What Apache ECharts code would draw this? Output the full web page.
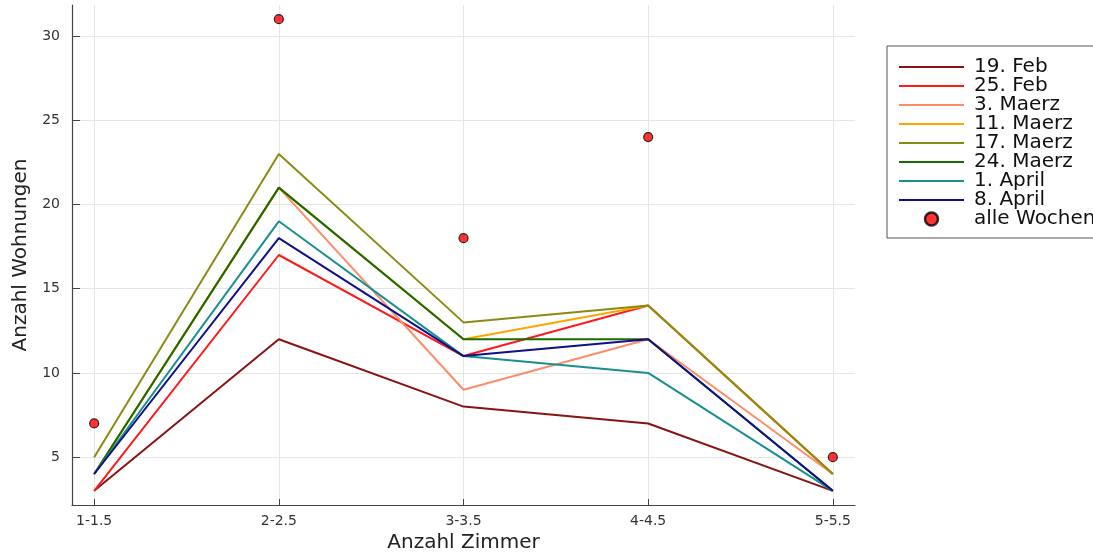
<!DOCTYPE html>
<html><head><meta charset="utf-8">
<script src="https://cdn.jsdelivr.net/npm/echarts@6/dist/echarts.min.js"></script>
<style>html,body{margin:0;padding:0;background:#fff}#c{width:1093px;height:553px}</style>
</head><body><div id="c"></div>
<script>
const categories = ["1-1.5", "2-2.5", "3-3.5", "4-4.5", "5-5.5"];
const seriesNames = ["19. Feb", "25. Feb", "3. Maerz", "11. Maerz", "17. Maerz", "24. Maerz", "1. April", "8. April"];
const feb19 = [3, 12, 8, 7, 3];
const feb25 = [3, 17, 11, 14, 4];
const mar03 = [4, 21, 9, 12, 4];
const mar11 = [4, 21, 12, 14, 4];
const mar17 = [5, 23, 13, 14, 4];
const mar24 = [4, 21, 12, 12, 3];
const apr01 = [4, 19, 11, 10, 3];
const apr08 = [4, 18, 11, 12, 3];
const allWeeksName = "alle Wochen";
const allWeeks = [7, 31, 18, 24, 5];
const yTicks = [5, 10, 15, 20, 25, 30];

const lineValues = [feb19, feb25, mar03, mar11, mar17, mar24, apr01, apr08];
const colors = ["#8b1212", "#ff1a1a", "#ff8c69", "#ffa500", "#8b8b14", "#1a6b00", "#18908f", "#10108b"];
const xPos = categories.map((c, i) => i + 1);
const toPairs = vals => vals.map((v, i) => [xPos[i], v]);

const series = lineValues.map((vals, k) => ({
  name: seriesNames[k], type: 'line', data: toPairs(vals),
  symbol: 'none', showSymbol: false, animation: false,
  lineStyle: {color: colors[k], width: 2}, itemStyle: {color: colors[k]}
}));
series.push({
  name: allWeeksName, type: 'scatter', data: toPairs(allWeeks),
  symbolSize: 9, animation: false,
  itemStyle: {color: '#ff0000', borderColor: '#000', borderWidth: 1.2}
});

const lineIcon = 'path://M0,0 L65,0 L65,2 L0,2 Z';
const legendData = seriesNames.map(n => ({name: n, icon: lineIcon}))
  .concat([{name: allWeeksName, icon: 'circle', itemStyle: {borderWidth: 2.5, borderColor: '#000'}}]);

const chart = echarts.init(document.getElementById('c'), null, {renderer: 'canvas'});
const font = 'DejaVu Sans';
chart.setOption({
  animation: false,
  textStyle: {fontFamily: font},
  grid: {left: 72, top: 5, width: 783, height: 500, containLabel: false, outerBoundsMode: 'none'},
  xAxis: {
    type: 'value', min: 0.88, max: 5.12,
    name: 'Anzahl Zimmer', nameLocation: 'middle', nameGap: 27,
    nameTextStyle: {fontSize: 20, color: '#222', fontFamily: font},
    axisLine: {show: true, onZero: false, lineStyle: {color: '#444', width: 1.2}},
    axisTick: {show: true, inside: true, length: 6, customValues: xPos, lineStyle: {color: '#444'}},
    axisLabel: {customValues: xPos, formatter: v => categories[Math.round(v) - 1] || '', fontSize: 14, color: '#333', margin: 9, fontFamily: font},
    splitLine: {show: true, lineStyle: {color: '#e6e6e6', width: 1}}
  },
  yAxis: {
    type: 'value', min: 2.16, max: 31.84,
    name: 'Anzahl Wohnungen', nameLocation: 'middle', nameGap: 41, nameRotate: 90,
    nameTextStyle: {fontSize: 20, color: '#222', fontFamily: font},
    axisLine: {show: true, onZero: false, lineStyle: {color: '#444', width: 1.2}},
    axisTick: {show: true, inside: true, length: 8, customValues: yTicks, lineStyle: {color: '#444'}},
    axisLabel: {customValues: yTicks, fontSize: 14, color: '#333', margin: 12, fontFamily: font},
    splitLine: {show: true, lineStyle: {color: '#e6e6e6', width: 1}}
  },
  legend: {
    orient: 'vertical', left: 887, top: 46,
    data: legendData,
    symbolKeepAspect: true,
    borderColor: '#555', borderWidth: 1, borderRadius: 0,
    padding: [11, 60, 9, 12],
    itemWidth: 65, itemHeight: 13, itemGap: -1,
    textStyle: {fontSize: 20, color: '#111', fontFamily: font, lineHeight: 19, padding: [0, 0, 0, 5]},
    selectedMode: false
  },
  series: series
});
</script>
</body></html>
